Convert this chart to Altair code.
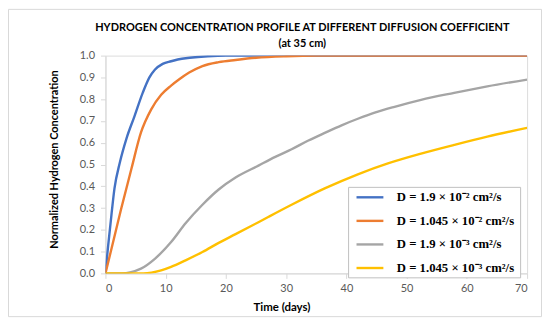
import altair as alt
import pandas as pd

# ---- data ----
labels = [
    "D = 1.9 × 10⁻²  cm²/s",
    "D = 1.045 × 10⁻²  cm²/s",
    "D = 1.9 × 10⁻³  cm²/s",
    "D = 1.045 × 10⁻³ cm²/s",
]
colors = ["#4472C4", "#ED7D31", "#A5A5A5", "#FFC000"]

blue_t = [0, 0.44, 1.0, 1.5, 2.4, 3.5, 4.8, 6.2, 7.3, 8.2, 9.5, 10.9, 12, 14, 17, 20, 25, 30, 35, 40, 50, 60, 70]
blue_y = [0, 0.125, 0.27, 0.39, 0.51, 0.62, 0.72, 0.83, 0.90, 0.935, 0.962, 0.974, 0.982, 0.99, 0.997, 1.0, 1.0, 1.0, 1.0, 1.0, 1.0, 1.0, 1.0]

orange_t = [0, 1.0, 2.6, 4.3, 5.9, 7.6, 9.25, 10.9, 12.2, 13.9, 16.1, 18.8, 21.6, 25, 30, 35, 40, 50, 60, 70]
orange_y = [0, 0.113, 0.296, 0.479, 0.647, 0.753, 0.82, 0.862, 0.89, 0.922, 0.952, 0.97, 0.98, 0.99, 0.997, 1.0, 1.0, 1.0, 1.0, 1.0]

gray_t = [0, 2.6, 5.9, 8.2, 10.9, 13.3, 16.1, 18.8, 21.6, 25.4, 28.2, 30.9, 33.7, 36.4, 39.2, 41.9, 44.7, 48, 52.4, 57.9, 63.4, 70]
gray_y = [0, 0, 0.022, 0.067, 0.144, 0.23, 0.315, 0.385, 0.44, 0.495, 0.535, 0.57, 0.61, 0.645, 0.68, 0.71, 0.738, 0.765, 0.797, 0.829, 0.859, 0.89]

yellow_t = [0, 6.3, 9.25, 10.9, 13.3, 16.1, 18.8, 21.6, 25.4, 27.1, 30.9, 36.4, 41.9, 46.9, 52.4, 57.9, 63.4, 70]
yellow_y = [0, 0, 0.014, 0.03, 0.06, 0.098, 0.14, 0.18, 0.235, 0.26, 0.315, 0.39, 0.455, 0.505, 0.55, 0.59, 0.628, 0.668]

x_ticks = [0, 10, 20, 30, 40, 50, 60, 70]
y_ticks = [0.0, 0.1, 0.2, 0.3, 0.4, 0.5, 0.6, 0.7, 0.8, 0.9, 1.0]

series = [(blue_t, blue_y), (orange_t, orange_y), (gray_t, gray_y), (yellow_t, yellow_y)]
rows = []
for i, (ts, ys) in enumerate(series):
    for t, y in zip(ts, ys):
        rows.append({"t": t, "c": y, "D": labels[i], "order": i})
df = pd.DataFrame(rows)

W, H = 424, 219
font = "Lato"

lines = alt.Chart(df).mark_line(strokeWidth=2.4, interpolate="monotone", clip=True).encode(
    x=alt.X("t:Q", scale=alt.Scale(domain=[0, 70], nice=False),
            axis=alt.Axis(values=x_ticks, title="Time (days)", grid=False,
                          domainColor="#d9d9d9", tickColor="#d9d9d9", tickSize=5,
                          labelColor="#595959", labelFontSize=11, labelFont=font, labelPadding=4,
                          titleFont=font, titleFontSize=11.5, titleFontWeight="bold", titleColor="#000000",
                          titleX=177, titleY=34, titleBaseline="middle", titleAlign="center")),
    y=alt.Y("c:Q", scale=alt.Scale(domain=[0, 1], nice=False),
            axis=alt.Axis(values=y_ticks, format=".1f", title="Normalized Hydrogen Concentration", grid=False,
                          domainColor="#d9d9d9", tickColor="#d9d9d9", tickSize=5,
                          labelColor="#595959", labelFontSize=11, labelFont=font, labelPadding=6,
                          titleFont=font, titleFontSize=11, titleFontWeight="bold", titleColor="#000000",
                          titleX=-51, titleY=104, titleAngle=270, titleBaseline="middle", titleAlign="center")),
    color=alt.Color("D:N", scale=alt.Scale(domain=labels, range=colors), sort=labels,
                    legend=alt.Legend(title=None, orient="none", legendX=244, legendY=132,
                                      symbolType="M-0.29,0L3.57,0", symbolStrokeWidth=2.4, symbolSize=196,
                                      labelFont="Liberation Serif", labelFontWeight="bold", labelFontSize=12.8,
                                      labelColor="#000000", labelLimit=300, labelOffset=30,
                                      rowPadding=7.7, padding=2, fillColor="white", strokeColor="#bfbfbf")),
    order="order:Q",
    detail="D:N",
)

border_df = pd.DataFrame({"k": [0]})
border = alt.Chart(border_df).mark_rect(fill=None, stroke="#d9d9d9", strokeWidth=1, clip=False).encode(
    x=alt.value(-97.5), x2=alt.value(W + 14.5), y=alt.value(-46.5), y2=alt.value(H + 43.5)
)

chart = alt.layer(border, lines).properties(
    width=W, height=H,
    title=alt.TitleParams(
        text=["HYDROGEN CONCENTRATION PROFILE AT DIFFERENT DIFFUSION COEFFICIENT", "(at 35 cm)"],
        font=font, fontSize=11, fontWeight="bold", color="#000000", anchor="middle",
        frame="group", dx=-14, dy=48, offset=8, lineHeight=16,
    ),
    autosize=alt.AutoSizeParams(type="none"),
    padding={"left": 98, "top": 47, "right": 15, "bottom": 44},
).configure_view(stroke="#d9d9d9").configure(background="white")

chart.save("out.html", embed_options={"renderer": "svg", "actions": False})
